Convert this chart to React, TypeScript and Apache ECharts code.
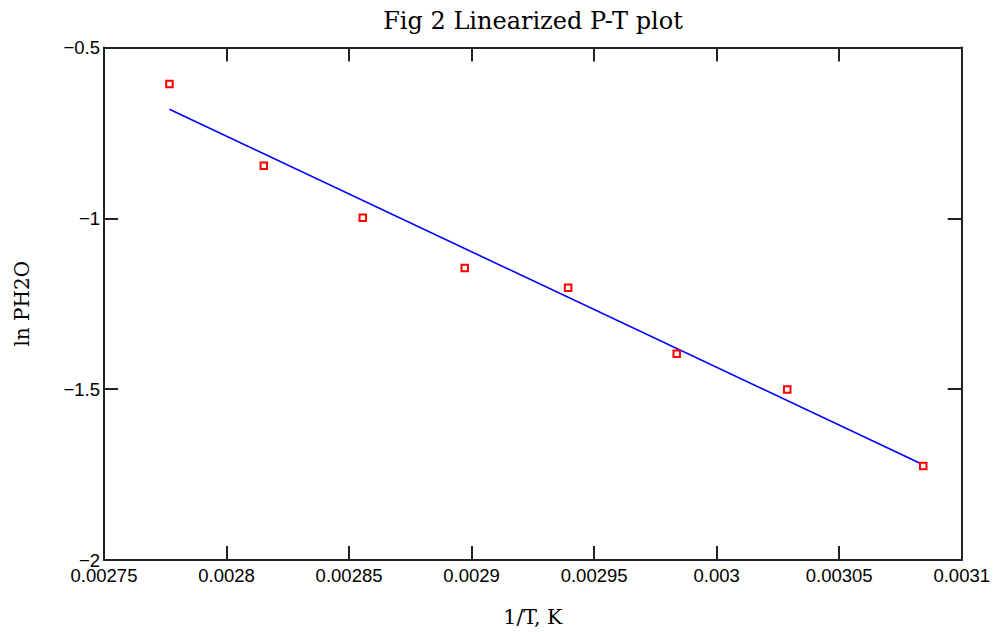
import React, { useEffect, useRef } from "react";
import * as echarts from "echarts";

const invT = [0.0027767, 0.0028152, 0.0028556, 0.0028972, 0.0029394, 0.0029837, 0.0030288, 0.0030843];
const lnP = [-0.607, -0.846, -0.998, -1.145, -1.203, -1.396, -1.501, -1.725];
const fitX = [0.0027767, 0.0030843];
const fitY = [-0.681, -1.721];

const fmtX = (v: number) => parseFloat(v.toFixed(5)).toString();
const fmtY = (v: number) => (v < 0 ? "\u2212" : "") + parseFloat(Math.abs(v).toFixed(2)).toString();

export default function App() {
  const ref = useRef<HTMLDivElement>(null);
  useEffect(() => {
    document.body.style.margin = "0";
    const chart = echarts.init(ref.current!, null, { renderer: "svg" });
    const axisLine = { show: true, lineStyle: { color: "#222", width: 2 } };
    const tick = { show: true, inside: true, length: 14, lineStyle: { color: "#222", width: 2 } };
    const labelFont = { fontFamily: "Liberation Sans", fontSize: 18.5, color: "#000" };
    const serif = "DejaVu Serif";
    chart.setOption({
      animation: false,
      backgroundColor: "#fff",
      title: {
        text: "Fig 2 Linearized P-T plot",
        left: 528,
        top: 4,
        textAlign: "center",
        textStyle: { fontFamily: serif, fontSize: 24, fontWeight: "normal", color: "#000" },
      },
      grid: { left: 104, right: 31, top: 47.5, bottom: 72 },
      xAxis: [
        {
          type: "value",
          min: 0.00275,
          max: 0.0031,
          interval: 0.00005,
          position: "bottom",
          axisLine,
          axisTick: tick,
          splitLine: { show: false },
          axisLabel: { ...labelFont, margin: 6, formatter: fmtX },
          name: "1/T, K",
          nameLocation: "middle",
          nameGap: 46,
          nameTextStyle: { fontFamily: serif, fontSize: 20.5, color: "#000" },
        },
        {
          type: "value",
          min: 0.00275,
          max: 0.0031,
          interval: 0.00005,
          position: "top",
          axisLine,
          axisTick: tick,
          splitLine: { show: false },
          axisLabel: { show: false },
        },
      ],
      yAxis: [
        {
          type: "value",
          min: -2,
          max: -0.5,
          interval: 0.5,
          position: "left",
          axisLine,
          axisTick: tick,
          splitLine: { show: false },
          axisLabel: { ...labelFont, margin: 4, formatter: fmtY },
          name: "ln PH2O",
          nameLocation: "middle",
          nameGap: 72,
          nameTextStyle: { fontFamily: serif, fontSize: 20, color: "#000" },
        },
        {
          type: "value",
          min: -2,
          max: -0.5,
          interval: 0.5,
          position: "right",
          axisLine,
          axisTick: tick,
          splitLine: { show: false },
          axisLabel: { show: false },
        },
      ],
      series: [
        {
          name: "fit",
          type: "line",
          data: fitX.map((x, i) => [x, fitY[i]]),
          showSymbol: false,
          symbol: "none",
          lineStyle: { color: "#0000ff", width: 1.6 },
          z: 2,
        },
        {
          name: "data",
          type: "scatter",
          data: invT.map((x, i) => [x, lnP[i]]),
          symbol: "rect",
          symbolSize: 6.5,
          itemStyle: { color: "#fff", borderColor: "#ff0000", borderWidth: 2, opacity: 1 },
          z: 3,
        },
      ],
    });
    return () => chart.dispose();
  }, []);
  return <div ref={ref} style={{ width: 993, height: 632 }} />;
}
